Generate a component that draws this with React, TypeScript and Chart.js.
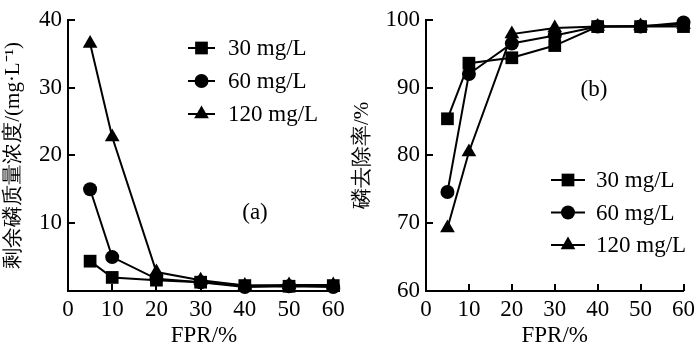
import React, { useEffect, useRef } from 'react';
import { Chart, registerables } from 'chart.js';

Chart.register(...registerables);

// ---- data ----
const fpr = [5, 10, 20, 30, 40, 50, 60];
const seriesNames = ['30 mg/L', '60 mg/L', '120 mg/L'];
const pointStyles = ['rect', 'circle', 'triangle'];
const pointSizes = [9, 7, 8.5];

const residual30 = [4.4, 2.0, 1.6, 1.3, 0.8, 0.7, 0.8];
const residual60 = [15.0, 5.0, 1.8, 1.3, 0.6, 0.7, 0.6];
const residual120 = [36.5, 22.7, 2.8, 1.6, 0.8, 0.9, 0.9];

const removal30 = [85.4, 93.6, 94.4, 96.2, 99.0, 99.0, 99.0];
const removal60 = [74.6, 92.0, 96.5, 97.7, 99.0, 99.0, 99.6];
const removal120 = [69.3, 80.5, 97.9, 98.8, 99.0, 99.1, 99.3];

const xTickValues = [0, 10, 20, 30, 40, 50, 60];
const yTicksA = [0, 10, 20, 30, 40];
const yTicksB = [60, 70, 80, 90, 100];

const xTitle = 'FPR/%';
const yTitleA = '剩余磷质量浓度/(mg·L⁻¹)';
const yTitleB = '磷去除率/%';
const panelLabelA = '(a)';
const panelLabelB = '(b)';

const SERIF = "'Liberation Serif', serif";
const TICK_FONT = 23;

function drawMarker(ctx: CanvasRenderingContext2D, style: string, x: number, y: number, r: number) {
  ctx.beginPath();
  if (style === 'rect') {
    const s = Math.SQRT1_2 * r;
    ctx.rect(x - s, y - s, 2 * s, 2 * s);
  } else if (style === 'circle') {
    ctx.arc(x, y, r, 0, Math.PI * 2);
  } else {
    let rad = 0;
    ctx.moveTo(x + Math.sin(rad) * r, y - Math.cos(rad) * r);
    rad += (2 * Math.PI) / 3;
    ctx.lineTo(x + Math.sin(rad) * r, y - Math.cos(rad) * r);
    rad += (2 * Math.PI) / 3;
    ctx.lineTo(x + Math.sin(rad) * r, y - Math.cos(rad) * r);
    ctx.closePath();
  }
  ctx.fill();
}

const decorPlugin = {
  id: 'decor',
  beforeDatasetsDraw(chart: any) {
    const { ctx, chartArea, scales } = chart;
    const tl = 7;
    ctx.save();
    ctx.strokeStyle = '#000';
    ctx.lineWidth = 2;
    scales.y.ticks.forEach((t: any) => {
      if (t.value === scales.y.min) return;
      const py = Math.round(scales.y.getPixelForValue(t.value));
      ctx.beginPath();
      ctx.moveTo(chartArea.left, py);
      ctx.lineTo(chartArea.left + tl, py);
      ctx.stroke();
    });
    scales.x.ticks.forEach((t: any) => {
      if (t.value === scales.x.min) return;
      const px = Math.round(scales.x.getPixelForValue(t.value));
      ctx.beginPath();
      ctx.moveTo(px, chartArea.bottom);
      ctx.lineTo(px, chartArea.bottom - tl);
      ctx.stroke();
    });
    ctx.restore();
  },
  afterDatasetsDraw(chart: any, _args: any, opts: any) {
    const { ctx } = chart;
    ctx.save();
    ctx.font = `${TICK_FONT}px ${SERIF}`;
    ctx.fillStyle = '#000';
    ctx.strokeStyle = '#000';
    ctx.textBaseline = 'middle';
    chart.data.datasets.forEach((ds: any, i: number) => {
      const y = opts.legendY + i * opts.rowGap;
      ctx.lineWidth = 2;
      ctx.beginPath();
      ctx.moveTo(opts.legendX, y);
      ctx.lineTo(opts.legendX + opts.lineLen, y);
      ctx.stroke();
      drawMarker(ctx, ds.pointStyle, opts.legendX + opts.lineLen / 2, y, ds.pointRadius);
      ctx.textAlign = 'left';
      ctx.fillText(ds.label, opts.legendX + opts.lineLen + opts.textGap, y + 1);
    });
    ctx.textAlign = 'center';
    ctx.fillText(opts.label, opts.labelX, opts.labelY);
    ctx.restore();
  },
};

function makeDatasets(series: number[][]) {
  return series.map((vals, i) => ({
    label: seriesNames[i],
    data: fpr.map((x, j) => ({ x, y: vals[j] })),
    borderColor: '#000',
    backgroundColor: '#000',
    borderWidth: 2,
    pointStyle: pointStyles[i],
    pointRadius: pointSizes[i],
    pointBorderWidth: 0,
    pointBackgroundColor: '#000',
    tension: 0,
    clip: false as any,
  }));
}

function makeConfig(opts: {
  series: number[][];
  yTicks: number[];
  yTitle: string;
  xMax: number;
  yWidth: number;
  padRight: number;
  hideYMin: boolean;
  yTitlePadTop: number;
  decor: any;
}) {
  const yMin = opts.yTicks[0];
  const yMax = opts.yTicks[opts.yTicks.length - 1];
  return {
    type: 'line' as const,
    data: { datasets: makeDatasets(opts.series) },
    plugins: [decorPlugin],
    options: {
      responsive: false,
      animation: false as const,
      events: [],
      layout: { padding: { top: 15, right: opts.padRight, bottom: 0, left: 0 } },
      plugins: {
        legend: { display: false },
        tooltip: { enabled: false },
        decor: opts.decor,
      },
      scales: {
        x: {
          type: 'linear' as const,
          min: 0,
          max: opts.xMax,
          afterBuildTicks: (scale: any) => {
            scale.ticks = xTickValues.map((v) => ({ value: v }));
          },
          afterFit: (scale: any) => {
            scale.height = 59;
          },
          grid: { display: false, drawTicks: false },
          border: { display: true, color: '#000', width: 2 },
          ticks: {
            color: '#000',
            font: { family: SERIF, size: TICK_FONT },
            padding: 5,
            maxRotation: 0,
            autoSkip: false,
          },
          title: {
            display: true,
            text: xTitle,
            color: '#000',
            font: { family: SERIF, size: TICK_FONT },
            padding: { top: 0, bottom: 0 },
          },
        },
        y: {
          type: 'linear' as const,
          min: yMin,
          max: yMax,
          afterBuildTicks: (scale: any) => {
            scale.ticks = opts.yTicks.map((v) => ({ value: v }));
          },
          afterFit: (scale: any) => {
            scale.width = opts.yWidth;
          },
          grid: { display: false, drawTicks: false },
          border: { display: true, color: '#000', width: 2 },
          ticks: {
            color: '#000',
            font: { family: SERIF, size: TICK_FONT },
            padding: 6,
            autoSkip: false,
            callback: (v: any) => (opts.hideYMin && v === yMin ? '' : String(v)),
          },
          title: {
            display: true,
            text: opts.yTitle,
            color: '#000',
            font: { family: SERIF, size: 21 },
            padding: { top: opts.yTitlePadTop, bottom: 0 },
          },
        },
      },
    },
  };
}

function Panel({ config }: { config: any }) {
  const ref = useRef<HTMLCanvasElement | null>(null);
  useEffect(() => {
    if (!ref.current) return;
    const chart = new Chart(ref.current, config);
    return () => chart.destroy();
  }, [config]);
  return <canvas ref={ref} width={350} height={350} style={{ display: 'block', width: 350, height: 350 }} />;
}

const configA = makeConfig({
  series: [residual30, residual60, residual120],
  yTicks: yTicksA,
  yTitle: yTitleA,
  xMax: 61.5,
  yWidth: 68,
  padRight: 10,
  hideYMin: true,
  yTitlePadTop: 1,
  decor: {
    legendX: 188,
    legendY: 48,
    rowGap: 33,
    lineLen: 27,
    textGap: 13,
    label: panelLabelA,
    labelX: 255,
    labelY: 213,
  },
});

const configB = makeConfig({
  series: [removal30, removal60, removal120],
  yTicks: yTicksB,
  yTitle: yTitleB,
  xMax: 60,
  yWidth: 76,
  padRight: 13,
  hideYMin: false,
  yTitlePadTop: 0,
  decor: {
    legendX: 201,
    legendY: 180,
    rowGap: 32.5,
    lineLen: 34,
    textGap: 11,
    label: panelLabelB,
    labelX: 244,
    labelY: 90,
  },
});

export default function App() {
  return (
    <div
      style={{
        position: 'fixed',
        left: 0,
        top: 0,
        width: 700,
        height: 350,
        display: 'flex',
        background: '#fff',
      }}
    >
      <Panel config={configA} />
      <Panel config={configB} />
    </div>
  );
}
